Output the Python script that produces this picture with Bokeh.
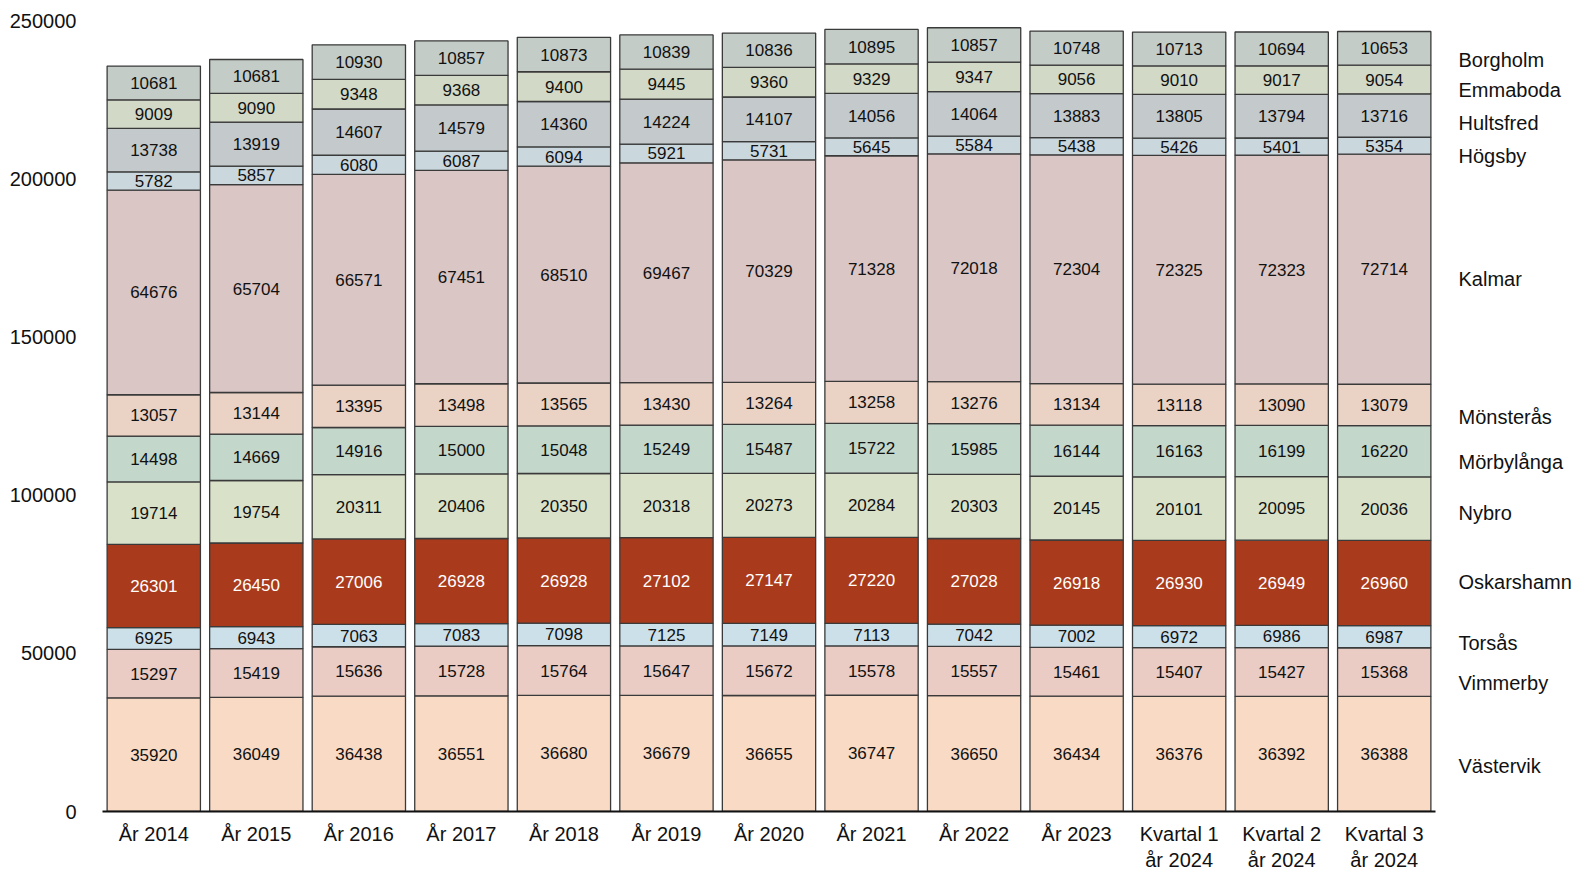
from bokeh.plotting import figure
from bokeh.models import ColumnDataSource, FactorRange, Range1d, FixedTicker, LinearAxis
from bokeh.core.properties import value
from bokeh.embed import file_html
from bokeh.resources import INLINE

categories = ["År 2014", "År 2015", "År 2016", "År 2017", "År 2018", "År 2019",
              "År 2020", "År 2021", "År 2022", "År 2023",
              "Kvartal 1\når 2024", "Kvartal 2\når 2024", "Kvartal 3\når 2024"]

# series, bottom to top
vastervik = [35920, 36049, 36438, 36551, 36680, 36679, 36655, 36747, 36650, 36434, 36376, 36392, 36388]
vimmerby = [15297, 15419, 15636, 15728, 15764, 15647, 15672, 15578, 15557, 15461, 15407, 15427, 15368]
torsas = [6925, 6943, 7063, 7083, 7098, 7125, 7149, 7113, 7042, 7002, 6972, 6986, 6987]
oskarshamn = [26301, 26450, 27006, 26928, 26928, 27102, 27147, 27220, 27028, 26918, 26930, 26949, 26960]
nybro = [19714, 19754, 20311, 20406, 20350, 20318, 20273, 20284, 20303, 20145, 20101, 20095, 20036]
morbylanga = [14498, 14669, 14916, 15000, 15048, 15249, 15487, 15722, 15985, 16144, 16163, 16199, 16220]
monsteras = [13057, 13144, 13395, 13498, 13565, 13430, 13264, 13258, 13276, 13134, 13118, 13090, 13079]
kalmar = [64676, 65704, 66571, 67451, 68510, 69467, 70329, 71328, 72018, 72304, 72325, 72323, 72714]
hogsby = [5782, 5857, 6080, 6087, 6094, 5921, 5731, 5645, 5584, 5438, 5426, 5401, 5354]
hultsfred = [13738, 13919, 14607, 14579, 14360, 14224, 14107, 14056, 14064, 13883, 13805, 13794, 13716]
emmaboda = [9009, 9090, 9348, 9368, 9400, 9445, 9360, 9329, 9347, 9056, 9010, 9017, 9054]
borgholm = [10681, 10681, 10930, 10857, 10873, 10839, 10836, 10895, 10857, 10748, 10713, 10694, 10653]

names = ["Västervik", "Vimmerby", "Torsås", "Oskarshamn", "Nybro", "Mörbylånga",
         "Mönsterås", "Kalmar", "Högsby", "Hultsfred", "Emmaboda", "Borgholm"]
series = [vastervik, vimmerby, torsas, oskarshamn, nybro, morbylanga,
          monsteras, kalmar, hogsby, hultsfred, emmaboda, borgholm]
colors = ["#F9DBC5", "#EACCC4", "#CCE0EA", "#A93A1B", "#D9E2C9", "#C4D7CB",
          "#EAD3C5", "#DAC6C4", "#CAD7DD", "#C4CACC", "#D2D9C6", "#C3CCC6"]
y_ticks = [0, 50000, 100000, 150000, 200000, 250000]

# side-label downward nudges in screen px (relative to the last bar's segment centres)
lab_dy = [12, 11, 6, -1, 4, 11, 12, 10, 10, 7, 10, 12]

FONT = "Liberation Sans"
W, H = 1589, 873
BL, BR, BT, BB = 102, 154, 20, 62
YMAX = 250000
units_per_px = YMAX / (H - BT - BB)

data = {"cat": categories}
keys = []
for i, s in enumerate(series):
    k = "s%d" % i
    keys.append(k)
    data[k] = s
source = ColumnDataSource(data)

p = figure(x_range=FactorRange(*categories, range_padding=0),
           y_range=Range1d(0, YMAX),
           width=W, height=H, output_backend="svg", toolbar_location=None,
           min_border_left=BL, min_border_right=BR, min_border_top=BT, min_border_bottom=BB)
p.outline_line_color = None
p.grid.visible = False

p.vbar_stack(keys, x="cat", width=0.91, source=source, color=colors,
             line_color="#3a3a3a", line_width=1.3)

# value labels
n = len(categories)
cum = [0] * n
side_ticks = []
side_over = {}
for i, s in enumerate(series):
    mids = [cum[j] + s[j] / 2 for j in range(n)]
    src = ColumnDataSource(dict(x=categories, y=mids, t=[str(v) for v in s]))
    p.text(x="x", y="y", text="t", source=src, text_align="center", text_baseline="middle",
           text_font=value(FONT), text_font_size="17px",
           text_color="white" if names[i] == "Oskarshamn" else "#111111")
    tick = int(round(mids[-1] - lab_dy[i] * units_per_px))
    side_ticks.append(tick)
    side_over[tick] = names[i]
    cum = [cum[j] + s[j] for j in range(n)]

# right-hand name labels via an axis
ax = LinearAxis(ticker=FixedTicker(ticks=side_ticks), major_label_overrides=side_over)
ax.axis_line_color = None
ax.major_tick_line_color = None
ax.minor_tick_line_color = None
ax.major_label_standoff = 17
ax.major_label_text_font = FONT
ax.major_label_text_font_size = "20px"
ax.major_label_text_color = "#111111"
p.add_layout(ax, "right")

p.yaxis[0].ticker = FixedTicker(ticks=y_ticks)
yl = p.yaxis[0]
yl.axis_line_color = None
yl.major_tick_line_color = None
yl.minor_tick_line_color = None
yl.major_label_standoff = 20
yl.major_label_text_font = FONT
yl.major_label_text_font_size = "20px"
yl.major_label_text_color = "#111111"
yl.formatter.use_scientific = False

p.xaxis.axis_line_color = "#111111"
p.xaxis.axis_line_width = 2
p.xaxis.major_tick_line_color = None
p.xaxis.minor_tick_line_color = None
p.xaxis.major_label_standoff = 5
p.xaxis.major_label_text_font = FONT
p.xaxis.major_label_text_font_size = "20px"
p.xaxis.major_label_text_color = "#111111"

open("out.html", "w").write(file_html(p, INLINE))
